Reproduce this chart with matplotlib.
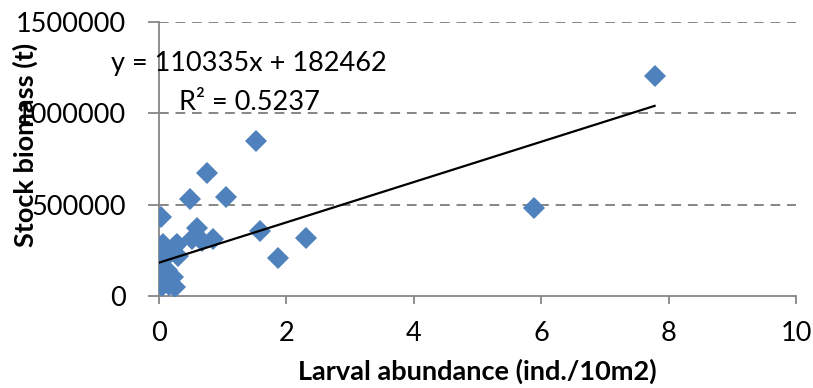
import matplotlib.pyplot as plt
import numpy as np

# larval abundance vs stock biomass
larvae = [7.78, 5.89, 1.52, 0.755, 0.484, 1.047, 0.03, 0.59, 1.59, 2.31, 1.86,
          0.51, 0.67, 0.85, 0.28, 0.07, 0.25, 0.30, 0.0, 0.0, 0.02, 0.0, 0.05,
          0.22, 0.25, 0.10, 0.05, 0.18, 0.0, 0.12, 0.15]
biomass = [1205000, 484000, 847000, 674000, 529000, 544000, 435000, 375000,
           356000, 315000, 207000, 311000, 302000, 311000, 283000, 283000,
           274000, 220000, 220000, 165000, 111000, 83000, 56000, 102000,
           47000, 250000, 190000, 95000, 260000, 140000, 60000]

slope = 110335
intercept = 182462
r2 = 0.5237

xticks = [0, 2, 4, 6, 8, 10]
yticks = [0, 500000, 1000000, 1500000]

plt.rcParams['font.family'] = ['Lato', 'DejaVu Sans']

fig = plt.figure(figsize=(8.13, 3.88), dpi=100)
ax = fig.add_axes([0.1956, 0.2371, 0.7835, 0.7062])

ax.plot(larvae, biomass, 'D', color='#4F81BD', markersize=11,
        markeredgewidth=0, zorder=3)

xl = np.array([min(larvae), max(larvae)])
ax.plot(xl, slope * xl + intercept, color='black', lw=1.6, zorder=4)

ax.set_xlim(0, 10)
ax.set_ylim(0, 1500000)
ax.set_xticks(xticks)
ax.set_xticklabels([str(t) for t in xticks])
ax.set_yticks(yticks)
ax.set_yticklabels([str(t) for t in yticks])

for y in yticks[1:]:
    ax.axhline(y, color='#868686', lw=1.4, ls=(0, (5, 3.5)), zorder=1)

for s in ['top', 'right']:
    ax.spines[s].set_visible(False)
for s in ['left', 'bottom']:
    ax.spines[s].set_color('#868686')
    ax.spines[s].set_linewidth(1.3)
ax.tick_params(axis='both', colors='#868686', labelcolor='black',
               labelsize=19.5, width=1.3)
ax.tick_params(axis='y', length=8, pad=16)
ax.tick_params(axis='x', length=6, pad=12)

ax.set_xlabel('Larval abundance (ind./10m2)', fontsize=19.5, fontweight='bold',
              labelpad=9)
ax.set_ylabel('Stock biomass (t)', fontsize=19.5, fontweight='bold')
ax.yaxis.set_label_coords(-0.19, 0.55)

ax.text(1.41, 1275000, 'y = 110335x + 182462', fontsize=19.5,
        ha='center', va='center', zorder=5)
ax.text(1.42, 1057000, 'R² = 0.5237', fontsize=19.5,
        ha='center', va='center', zorder=5)

fig.savefig('out.png', dpi=100)
